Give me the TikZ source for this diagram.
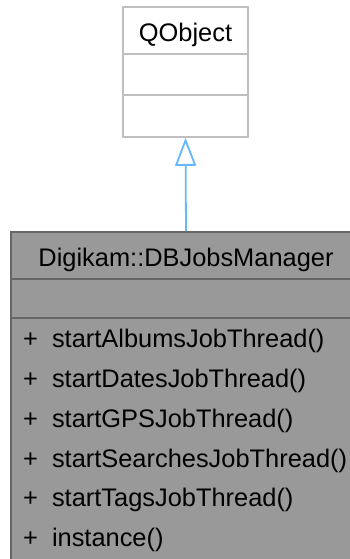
\documentclass[tikz,border=0pt]{standalone}
\usepackage{fontspec}
\setmainfont{Liberation Sans}
\usepackage{xcolor}
\usetikzlibrary{arrows.meta, positioning}

\definecolor{baseedge}{HTML}{BFBFBF}
\definecolor{classfill}{HTML}{999999}
\definecolor{classedge}{HTML}{666666}
\definecolor{inheritblue}{HTML}{63B8FF}

\begin{document}
\begin{tikzpicture}[
    x=1pt, y=-1pt,
    font=\fontsize{25.4}{30}\selectfont,
    basebox/.style={draw=baseedge, fill=white, line width=1.6pt, inner sep=0pt},
    classbox/.style={draw=classedge, fill=classfill, line width=1.6pt, inner sep=0pt},
    member/.style={anchor=base west, inner sep=0pt},
    inheritarrow/.style={draw=inheritblue, line width=1.8pt,
        -{Triangle[open, length=28pt, width=21pt, line width=1.8pt]}}
]
    \useasboundingbox (0,0) rectangle (350,559);

    % Base class
    \node[basebox, minimum width=125pt, minimum height=130pt] (qobject) at (185.5,72) {};
    \node[anchor=base, inner sep=0pt] (qobjectname) at (185.5,42) {QObject};
    \draw[baseedge, line width=1.6pt] (qobject.west |- 0,54) -- (qobject.east |- 0,54);
    \draw[baseedge, line width=1.6pt] (qobject.west |- 0,95) -- (qobject.east |- 0,95);

    % Derived class
    \node[classbox, minimum width=350pt, minimum height=334pt] (manager) at (186,399) {};
    \node[anchor=base, inner sep=0pt] (managername) at (186,266) {Digikam::DBJobsManager};
    \draw[classedge, line width=1.6pt] (manager.west |- 0,279) -- (manager.east |- 0,279);
    \draw[classedge, line width=1.6pt] (manager.west |- 0,318) -- (manager.east |- 0,318);

    % Members
    \node[member] (m1) at (23,347) {+\hspace{14pt}startAlbumsJobThread()};
    \node[member] (m2) at (23,387) {+\hspace{14pt}startDatesJobThread()};
    \node[member] (m3) at (23,427) {+\hspace{14pt}startGPSJobThread()};
    \node[member] (m4) at (23,467) {+\hspace{14pt}startSearchesJobThread()};
    \node[member] (m5) at (23,506) {+\hspace{14pt}startTagsJobThread()};
    \node[member] (m6) at (23,546) {+\hspace{14pt}instance()};

    % Inheritance
    \draw[inheritarrow] (manager.north) -- (qobject.south);
\end{tikzpicture}
\end{document}
